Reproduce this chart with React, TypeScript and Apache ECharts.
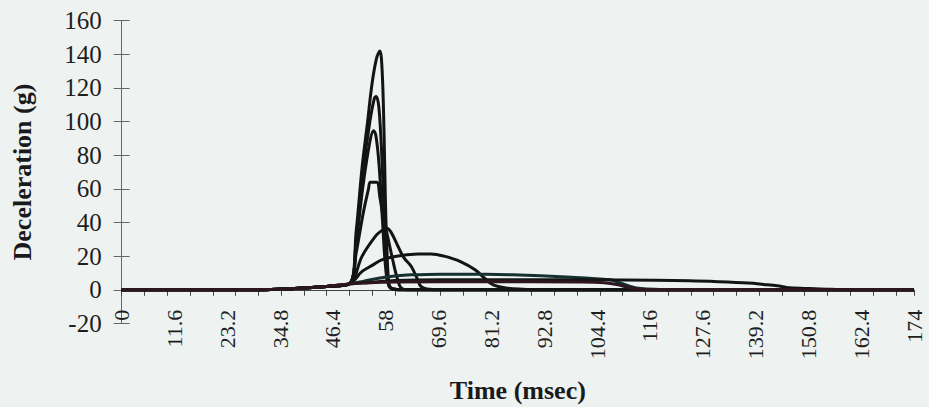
import React, { useEffect, useRef } from "react";
import * as echarts from "echarts";

// Y axis ticks
const yMin = -20;
const yMax = 160;
const yStep = 20;
// X axis (time in msec)
const xMin = 0;
const xMax = 174;
const xLabelStep = 11.6;
const xTickStep = 5;

// Deceleration traces [time (msec), deceleration (g)]
const pulse142: number[][] = [[0, 0], [30, 0], [38, 0.8], [45, 2], [50, 3.5], [51.5, 35], [52.8, 73], [54, 100], [55, 123], [56, 138], [56.7, 142], [57.2, 130], [57.6, 95], [57.9, 55], [58.3, 20], [58.75, 3], [59.5, 0.5], [62, 0], [174, 0]];
const pulse115: number[][] = [[0, 0], [30, 0], [38, 0.8], [45, 2], [50, 3.5], [51.5, 30], [53, 70], [54.5, 100], [55.5, 114], [55.9, 115], [56.5, 108], [57.2, 75], [57.8, 35], [58.4, 8], [59, 1], [62, 0], [174, 0]];
const pulse95: number[][] = [[0, 0], [30, 0], [38, 0.8], [45, 2], [50, 3.5], [51.5, 28], [53, 62], [54.5, 88], [55.3, 94.5], [55.8, 92], [56.5, 75], [57.3, 40], [58, 12], [58.8, 2], [61, 0], [174, 0]];
const pulse64: number[][] = [[0, 0], [30, 0], [38, 0.8], [45, 2], [50, 3.5], [51.5, 22], [53, 45], [54.2, 60], [54.6, 64], [56, 64], [56.7, 55], [57.5, 42], [58.3, 33], [59.5, 18], [60.5, 7], [61.4, 1], [63, 0], [174, 0]];
const pulse37: number[][] = [[0, 0], [30, 0], [38, 0.8], [45, 2], [50, 3.5], [52.8, 20], [55.7, 31.7], [57, 35], [58.2, 36.6], [59.2, 34], [60.7, 25.7], [62, 19], [63.6, 13.8], [65, 6], [65.7, 2], [67, 0.5], [70, 0], [174, 0]];
const pulse21: number[][] = [[0, 0], [30, 0], [38, 0.8], [45, 2], [50, 3.5], [52.8, 10.9], [55, 14.5], [57.1, 17.8], [60, 19.8], [65, 21.2], [68, 21.3], [70.8, 20], [74.4, 16.8], [77.6, 11.9], [79.7, 6.9], [81.5, 3], [84.4, 1], [88, 0.3], [92, 0], [174, 0]];
const pulse9: number[][] = [[0, 0], [30, 0], [38, 0.8], [45, 2], [50, 3.5], [53, 5], [56.4, 6.9], [60, 8.2], [63.6, 8.9], [70, 9.3], [80, 9.2], [85.9, 8.9], [92, 8.3], [98.8, 7.5], [104, 6.6], [107.4, 5.9], [109.5, 4], [111.7, 2], [114, 0.7], [118, 0.2], [122, 0], [174, 0]];
const pulse6: number[][] = [[0, 0], [30, 0], [38, 0.8], [45, 2], [50, 3.5], [55, 4.5], [60, 5.5], [70, 6], [90, 6], [110, 5.8], [124.7, 5.3], [131, 4.8], [137.6, 4], [141, 3.2], [144, 2.4], [146, 1.4], [150.5, 0.8], [155, 0.3], [160, 0], [174, 0]];
const pulse5: number[][] = [[0, 0], [30, 0], [38, 0.8], [45, 2], [50, 3.5], [53, 4], [60, 4.6], [80, 4.8], [100, 4.6], [106, 4.2], [109, 3], [111.5, 1.2], [114, 0.3], [118, 0], [174, 0]];

const traces = [
  { name: "142 g", data: pulse142, color: "#141414" },
  { name: "115 g", data: pulse115, color: "#141414" },
  { name: "95 g", data: pulse95, color: "#141414" },
  { name: "64 g", data: pulse64, color: "#141414" },
  { name: "37 g", data: pulse37, color: "#141414" },
  { name: "21 g", data: pulse21, color: "#141414" },
  { name: "9 g", data: pulse9, color: "#15302e" },
  { name: "6 g", data: pulse6, color: "#141414" },
  { name: "5 g", data: pulse5, color: "#2e1620" },
];

const FONT = "Liberation Serif";
const fmt = (v: number) => String(parseFloat(Number(v).toFixed(1)));

const GRID_TOP = 20.7;
const GRID_BOTTOM = 83.6;
const H = 407;
// move the x axis up from the plot's bottom edge to the y = 0 line
const zeroOffset = -((H - GRID_BOTTOM - GRID_TOP) * (0 - yMin)) / (yMax - yMin);

export default function App() {
  const ref = useRef<HTMLDivElement>(null);
  useEffect(() => {
    if (!ref.current) return;
    const chart = echarts.init(ref.current, null, { renderer: "svg" });
    chart.setOption({
      animation: false,
      backgroundColor: "#eef2f1",
      grid: { left: 121.7, right: 15, top: GRID_TOP, bottom: GRID_BOTTOM, containLabel: false, outerBoundsMode: "none" },
      xAxis: [
        {
          type: "value",
          min: xMin,
          max: xMax,
          interval: xLabelStep,
          position: "bottom",
          offset: zeroOffset,
          name: "Time (msec)",
          nameLocation: "middle",
          nameGap: 88,
          nameTextStyle: { fontFamily: FONT, fontWeight: "bold", fontSize: 26, color: "#1a1a1a" },
          axisLine: { show: true, onZero: false, lineStyle: { color: "#444", width: 1 } },
          axisTick: { show: false },
          splitLine: { show: false },
          axisLabel: {
            rotate: 90,
            margin: 20,
            fontFamily: FONT,
            fontSize: 22,
            color: "#1e1e1e",
            showMinLabel: true,
            showMaxLabel: true,
            formatter: fmt,
          },
        },
        {
          type: "value",
          min: xMin,
          max: xMax,
          interval: xTickStep,
          position: "bottom",
          offset: zeroOffset,
          axisLine: { show: false, onZero: false },
          axisTick: { show: true, length: 6, lineStyle: { color: "#444", width: 1 } },
          axisLabel: { show: false },
          splitLine: { show: false },
        },
      ],
      yAxis: [
        {
          type: "value",
          min: yMin,
          max: yMax,
          interval: yStep,
          position: "left",
          name: "Deceleration (g)",
          nameLocation: "middle",
          nameRotate: 90,
          nameGap: 86,
          nameTextStyle: { fontFamily: FONT, fontWeight: "bold", fontSize: 26, color: "#1a1a1a" },
          axisLine: { show: true, onZero: false, lineStyle: { color: "#666", width: 1 } },
          axisTick: { show: true, length: 8, lineStyle: { color: "#666", width: 1 } },
          splitLine: { show: false },
          axisLabel: { margin: 20, fontFamily: FONT, fontSize: 25, color: "#1e1e1e" },
        },
        {
          type: "value",
          min: yMin,
          max: yMax,
          interval: yStep,
          position: "left",
          axisLine: { show: false, onZero: false },
          axisTick: { show: true, inside: true, length: 8, lineStyle: { color: "#666", width: 1 } },
          axisLabel: { show: false },
          splitLine: { show: false },
        },
      ],
      series: traces.map((t) => ({
        type: "line",
        name: t.name,
        data: t.data,
        xAxisIndex: 0,
        yAxisIndex: 0,
        showSymbol: false,
        smooth: 0.35,
        lineStyle: { color: t.color, width: 3 },
        silent: true,
      })),
    });
    return () => chart.dispose();
  }, []);
  return (
    <div
      ref={ref}
      style={{ position: "fixed", left: 0, top: 0, width: 929, height: 407, background: "#eef2f1" }}
    />
  );
}
